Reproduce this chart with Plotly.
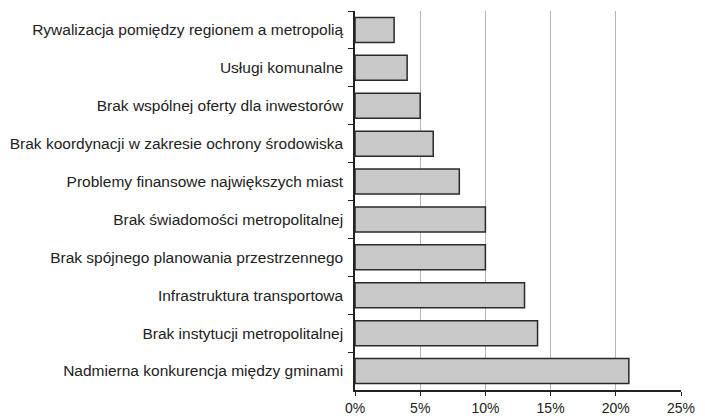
import plotly.graph_objects as go

categories = [
    "Rywalizacja pomiędzy regionem a metropolią",
    "Usługi komunalne",
    "Brak wspólnej oferty dla inwestorów",
    "Brak koordynacji w zakresie ochrony środowiska",
    "Problemy finansowe największych miast",
    "Brak świadomości metropolitalnej",
    "Brak spójnego planowania przestrzennego",
    "Infrastruktura transportowa",
    "Brak instytucji metropolitalnej",
    "Nadmierna konkurencja między gminami",
]
values = [3, 4, 5, 6, 8, 10, 10, 13, 14, 21]
x_ticks = [0, 5, 10, 15, 20, 25]

fig = go.Figure(
    go.Bar(
        y=categories,
        x=values,
        orientation="h",
        marker=dict(color="#c8c8c8", line=dict(color="#2a2a2a", width=1.5)),
        width=0.66,
    )
)

fig.update_layout(
    width=705,
    height=418,
    margin=dict(l=355, r=24, t=11, b=28, autoexpand=False),
    paper_bgcolor="white",
    plot_bgcolor="white",
    showlegend=False,
    font=dict(family="Liberation Sans, Arial, sans-serif", size=15.5, color="#222222"),
)

fig.update_xaxes(
    range=[0, 25],
    tickvals=x_ticks,
    ticktext=[f"{v}%" for v in x_ticks],
    showgrid=True,
    gridcolor="#b5b5b5",
    gridwidth=1,
    zeroline=False,
    showline=True,
    linecolor="#222222",
    linewidth=1.5,
    ticks="outside",
    ticklen=4,
    tickcolor="#222222",
    tickfont=dict(size=14),
    ticklabelstandoff=0,
    automargin=False,
)

fig.update_yaxes(
    type="category",
    categoryorder="array",
    categoryarray=categories,
    autorange="reversed",
    tickson="boundaries",
    ticks="outside",
    ticklen=5,
    tickcolor="#222222",
    showgrid=False,
    showline=True,
    linecolor="#222222",
    linewidth=1.5,
    tickfont=dict(size=15.5),
    ticklabelstandoff=7,
    automargin=False,
)

fig.write_html(
    "out.html",
    config={"displayModeBar": False},
    post_script="document.body.style.margin='0';document.body.style.overflow='hidden';",
)
